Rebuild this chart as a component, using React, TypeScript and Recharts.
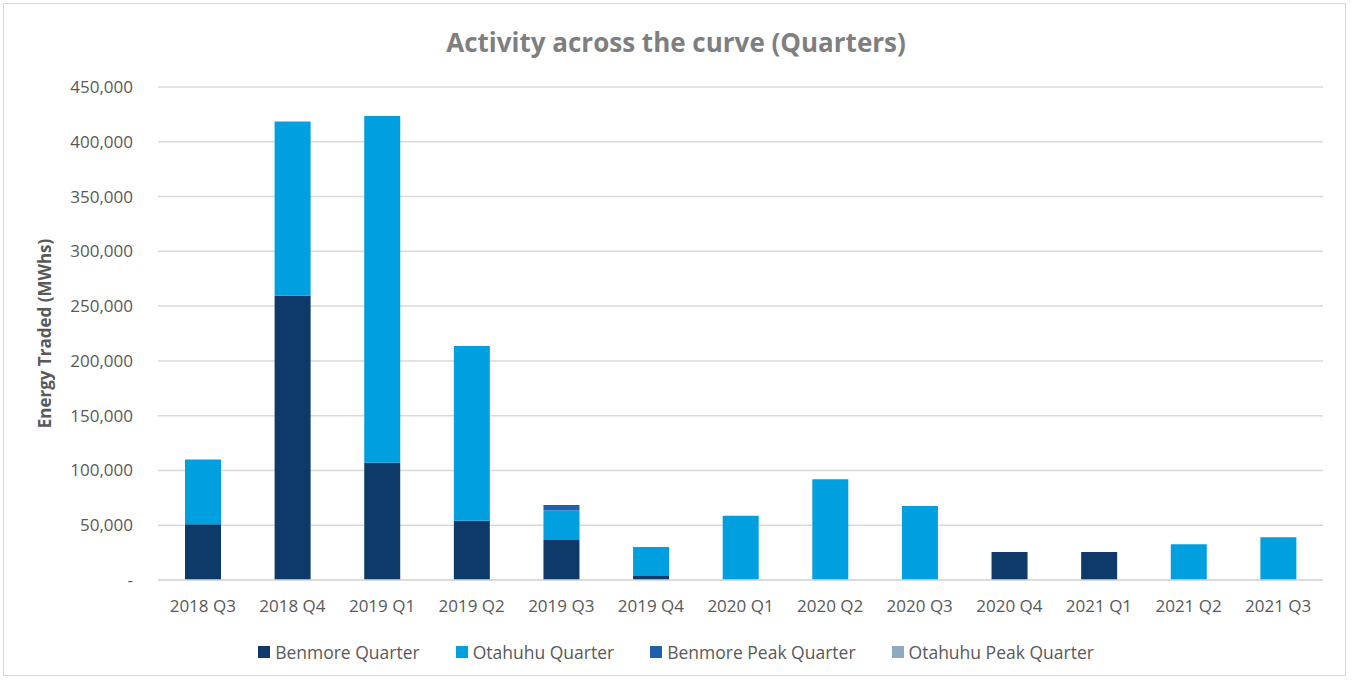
import { BarChart, Bar, XAxis, YAxis, CartesianGrid, Legend } from 'recharts';

/* ------------------------------------------------------------------ */
/*  Activity across the curve (Quarters) — stacked quarterly volumes  */
/* ------------------------------------------------------------------ */

const quarters = [
  '2018 Q3', '2018 Q4', '2019 Q1', '2019 Q2', '2019 Q3', '2019 Q4', '2020 Q1',
  '2020 Q2', '2020 Q3', '2020 Q4', '2021 Q1', '2021 Q2', '2021 Q3',
];

// MWh
const benmoreQuarter = [51000, 259500, 107000, 54000, 36500, 3600, 0, 0, 0, 25500, 25500, 0, 0];
const otahuhuQuarter = [59000, 159000, 316500, 159500, 27000, 26500, 58700, 91900, 67500, 0, 0, 32600, 39000];
const benmorePeakQuarter = [0, 0, 0, 0, 5000, 0, 0, 0, 0, 0, 0, 0, 0];
const otahuhuPeakQuarter = [0, 0, 0, 0, 0, 0, 0, 0, 0, 0, 0, 0, 0];

const yTicks = [0, 50000, 100000, 150000, 200000, 250000, 300000, 350000, 400000, 450000];

const series = [
  { key: 'benmore', name: 'Benmore Quarter', color: '#0e3a6a' },
  { key: 'otahuhu', name: 'Otahuhu Quarter', color: '#009fdf' },
  { key: 'benmorePeak', name: 'Benmore Peak Quarter', color: '#1f5fad' },
  { key: 'otahuhuPeak', name: 'Otahuhu Peak Quarter', color: '#8ea9c1' },
];

const data = quarters.map((q, i) => ({
  quarter: q,
  benmore: benmoreQuarter[i],
  otahuhu: otahuhuQuarter[i],
  benmorePeak: benmorePeakQuarter[i],
  otahuhuPeak: otahuhuPeakQuarter[i],
}));

const FONT = '"Open Sans", "Liberation Sans", sans-serif';
const TEXT_GRAY = '#595959';

const formatTick = (v: number) => (v === 0 ? '-' : v.toLocaleString('en-US'));

/* ---- Legend: small squares + labels, in series order (Excel style) ---- */
function LegendContent() {
  return (
    <div style={{ display: 'flex', justifyContent: 'center', gap: 36, fontFamily: FONT, fontSize: 17.5, color: TEXT_GRAY }}>
      {series.map((s) => (
        <div key={s.key} style={{ display: 'flex', alignItems: 'center' }}>
          <span style={{ width: 12, height: 12, background: s.color, marginRight: 5, display: 'inline-block' }} />
          <span>{s.name}</span>
        </div>
      ))}
    </div>
  );
}

export default function App() {
  return (
    <div style={{ position: 'absolute', left: 0, top: 0, width: 1352, height: 681, background: '#fff', fontFamily: FONT }}>
      <div
        style={{
          position: 'absolute', left: 3, top: 3, width: 1343, height: 673,
          border: '1px solid #d9d9d9', boxSizing: 'border-box',
        }}
      />
      <div
        style={{
          position: 'absolute', top: 23, left: 0, width: 1352, textAlign: 'center',
          fontSize: 26, fontWeight: 700, color: '#7f7f7f', lineHeight: '38px',
        }}
      >
        Activity across the curve (Quarters)
      </div>

      <div style={{ position: 'absolute', left: 0, top: 0 }}>
        <BarChart width={1352} height={681} data={data} margin={{ top: 87, right: 29, left: 0, bottom: 41 }}>
          <CartesianGrid vertical={false} stroke="#d9d9d9" strokeWidth={1.5} />
          <XAxis
            dataKey="quarter"
            height={60}
            tickLine={false}
            tickSize={0}
            tickMargin={20}
            axisLine={{ stroke: '#d9d9d9', strokeWidth: 1.5 }}
            tick={{ fill: TEXT_GRAY, fontSize: 17, fontFamily: FONT }}
            interval={0}
          />
          <YAxis
            width={158}
            domain={[0, 450000]}
            ticks={yTicks}
            tickFormatter={formatTick}
            axisLine={false}
            tickLine={false}
            tickSize={0}
            tickMargin={25}
            tick={{ fill: TEXT_GRAY, fontSize: 17, fontFamily: FONT }}
            label={{
              value: 'Energy Traded (MWhs)',
              angle: -90,
              position: 'insideLeft',
              offset: 45,
              style: { textAnchor: 'middle', fill: TEXT_GRAY, fontSize: 17, fontWeight: 700, fontFamily: FONT },
            }}
          />
          <Legend
            verticalAlign="middle"
            align="center"
            content={<LegendContent />}
            wrapperStyle={{ top: 640, left: 0, width: 1352 }}
          />
          {series.map((s) => (
            <Bar key={s.key} dataKey={s.key} name={s.name} stackId="a" fill={s.color} barSize={36} isAnimationActive={false} />
          ))}
        </BarChart>
      </div>
    </div>
  );
}
